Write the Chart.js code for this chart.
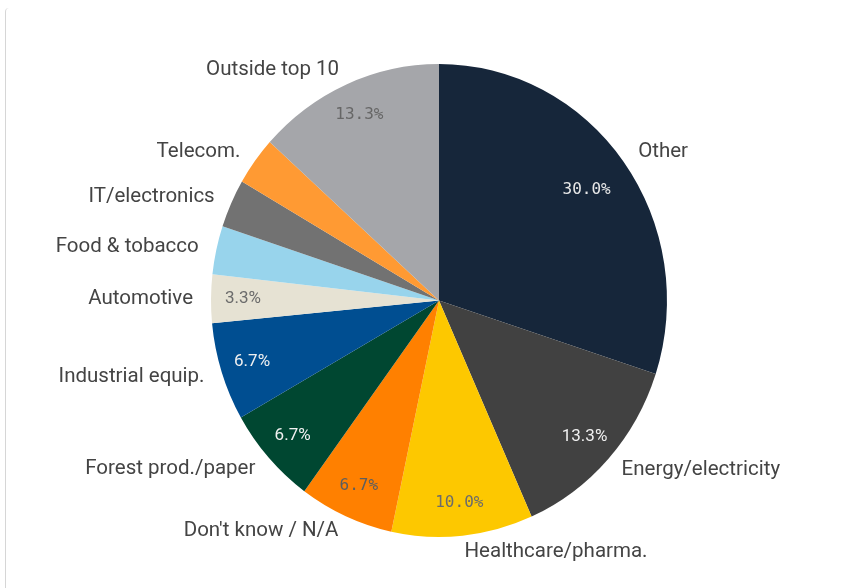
<!DOCTYPE html>
<html>
<head>
<meta charset="utf-8">
<script src="https://cdn.jsdelivr.net/npm/chart.js@4"></script>
<style>
  html, body { margin: 0; padding: 0; background: #fff; }
  #wrap { position: relative; width: 861px; height: 588px; }
  #frame { position: absolute; left: 5px; top: 8px; bottom: 0; width: 10px;
           border-left: 1px solid #d6d6d6; border-top-left-radius: 4px; }
</style>
</head>
<body>
<div id="wrap">
  <div id="frame"></div>
  <canvas id="pie" width="861" height="588"></canvas>
</div>
<script>
// sectors, clockwise from 12 o'clock
const categories = ['Other', 'Energy/electricity', 'Healthcare/pharma.', "Don't know / N/A",
  'Forest prod./paper', 'Industrial equip.', 'Automotive', 'Food & tobacco',
  'IT/electronics', 'Telecom.', 'Outside top 10'];
const shares = [30.0, 13.3, 10.0, 6.7, 6.7, 6.7, 3.3, 3.3, 3.3, 3.3, 13.3];
const shownPct = [true, true, true, true, true, true, true, false, false, false, true];

const sliceColors = ['#16263a', '#414141', '#fdc800', '#ff8000', '#004731', '#004e91',
  '#e6e2d3', '#98d4ec', '#727272', '#ff9a33', '#a5a6aa'];
const pctColors = ['#e8e8e8', '#f0f0f0', '#6b6b6b', '#5e5e5e', '#f0f0f0', '#f0f0f0',
  '#6b6b6b', '#555', '#eee', '#555', '#666'];
const pctFonts = ['16px "DejaVu Sans Mono"', '17px Roboto', '16px "DejaVu Sans Mono"',
  '16px "DejaVu Sans Mono"', '17px Roboto', '17px Roboto', '17px Roboto', '17px Roboto',
  '17px Roboto', '17px Roboto', '16px "DejaVu Sans Mono"'];

// the source picture is squeezed a little horizontally
const xSqueeze = 0.964;

const pieLabels = {
  id: 'pieLabels',
  beforeDatasetsDraw(chart) {
    const ctx = chart.ctx;
    const arc = chart.getDatasetMeta(0).data[0];
    ctx.save();
    ctx.translate(arc.x, 0);
    ctx.scale(xSqueeze, 1);
    ctx.translate(-arc.x, 0);
  },
  afterDatasetsDraw(chart) {
    const ctx = chart.ctx;
    ctx.restore();
    const meta = chart.getDatasetMeta(0);
    ctx.save();
    meta.data.forEach((arc, i) => {
      const p = arc.getProps(['x', 'y', 'startAngle', 'endAngle', 'outerRadius'], true);
      const mid = (p.startAngle + p.endAngle) / 2;
      const cos = Math.cos(mid), sin = Math.sin(mid);
      const rx = p.outerRadius * xSqueeze;

      // outer category label
      ctx.font = '20.5px Roboto';
      ctx.fillStyle = '#444';
      ctx.textBaseline = 'middle';
      ctx.textAlign = Math.abs(cos) < 0.02 ? 'center' : (cos > 0 ? 'left' : 'right');
      ctx.fillText(categories[i], p.x + cos * (rx + 18), p.y + sin * (p.outerRadius + 16));

      // percentage inside slice
      if (shownPct[i]) {
        const k = i === 0 ? 0.8 : 0.86;
        ctx.font = pctFonts[i];
        ctx.fillStyle = pctColors[i];
        ctx.textAlign = 'center';
        ctx.fillText(shares[i].toFixed(1) + '%', p.x + cos * rx * k, p.y + sin * p.outerRadius * k);
      }
    });
    ctx.restore();
  }
};

new Chart(document.getElementById('pie'), {
  type: 'pie',
  data: {
    labels: categories,
    datasets: [{
      data: shares,
      backgroundColor: sliceColors,
      borderWidth: 0
    }]
  },
  options: {
    responsive: false,
    animation: false,
    layout: { padding: { top: 64, bottom: 51, left: 100, right: 83 } },
    plugins: {
      legend: { display: false },
      tooltip: { enabled: false }
    }
  },
  plugins: [pieLabels]
});
</script>
</body>
</html>
